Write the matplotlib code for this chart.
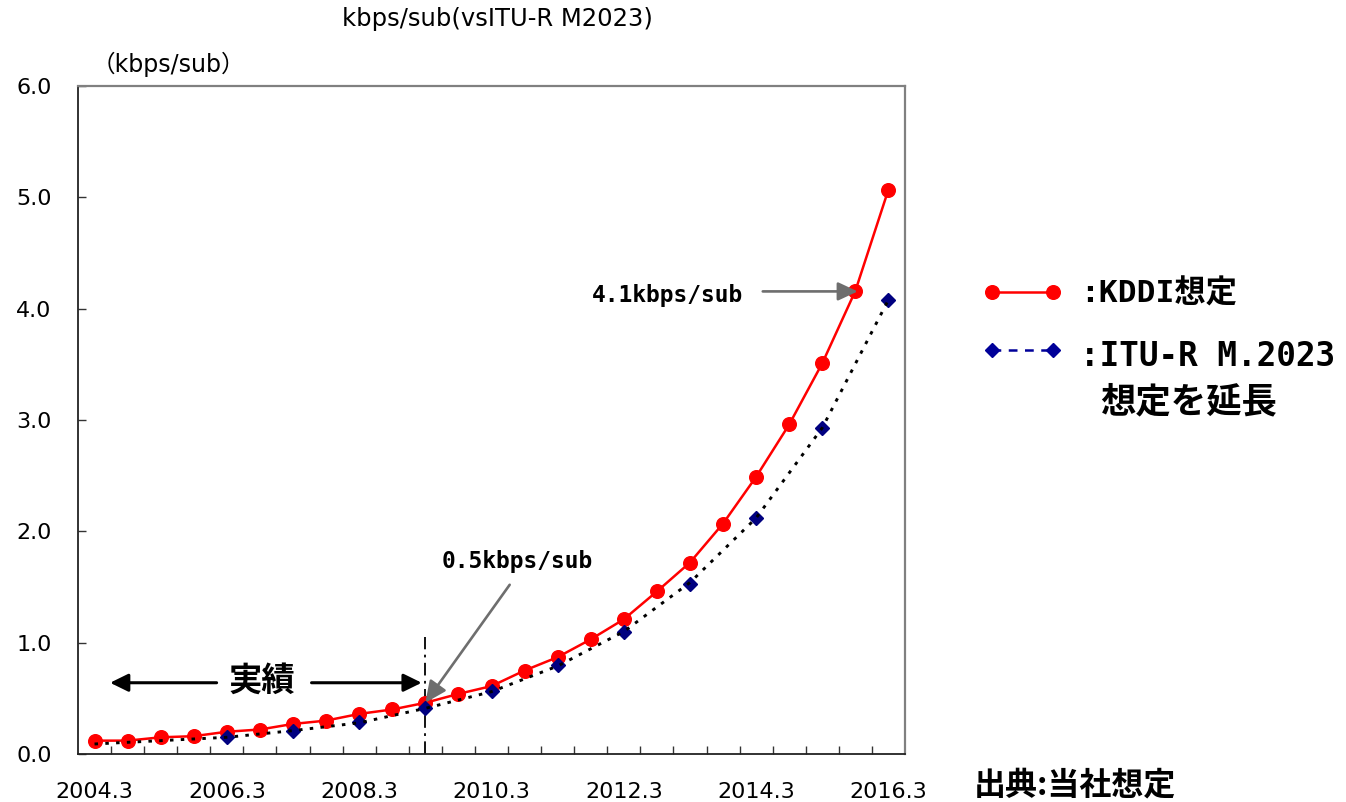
import numpy as np
import matplotlib
matplotlib.use("Agg")
import matplotlib.pyplot as plt

# ---- data -----------------------------------------------------------------
periods = [f"{y}.{m}" for y in range(2004, 2017) for m in (3, 9)][:-1]
tick_labels = ["2004.3", "2006.3", "2008.3", "2010.3", "2012.3", "2014.3", "2016.3"]

kddi = [0.12, 0.12, 0.15, 0.16, 0.20, 0.22, 0.27, 0.30, 0.36, 0.40, 0.46, 0.54, 0.61,
        0.75, 0.87, 1.03, 1.21, 1.46, 1.72, 2.07, 2.49, 2.96, 3.51, 4.16, 5.07]

itu_periods = ["2006.3", "2007.3", "2008.3", "2009.3", "2010.3", "2011.3",
               "2012.3", "2013.3", "2014.3", "2015.3", "2016.3"]
itu = [0.15, 0.21, 0.29, 0.41, 0.57, 0.80, 1.10, 1.53, 2.12, 2.93, 4.08]

trend_periods = ["2004.3", "2005.3", "2006.3", "2007.3", "2008.3", "2009.3", "2010.3",
                 "2011.3", "2012.3", "2013.3", "2014.3", "2015.3", "2016.3"]
itu_trend = [0.09, 0.12, 0.15, 0.21, 0.28, 0.41, 0.56, 0.79, 1.10, 1.54, 2.12, 2.93, 4.08]

actual_end = "2009.3"
kddi_note = ("2009.3", 0.46, "0.5kbps/sub")
itu_note = ("2015.9", 4.16, "4.1kbps/sub")

# ---- fonts ----------------------------------------------------------------
JP = "Noto Sans CJK JP"
MONO = "DejaVu Sans Mono"
plt.rcParams["font.family"] = ["DejaVu Sans", JP]

W, H = 1346, 802
fig = plt.figure(figsize=(W / 100, H / 100), dpi=100, facecolor="white")
ax = fig.add_axes([78 / W, 48 / H, 827 / W, 668 / H])

pos = {p: i for i, p in enumerate(periods)}
x = np.arange(len(periods))
ix = [pos[p] for p in itu_periods]
tx = [pos[p] for p in trend_periods]

ax.plot(x, kddi, color="#ff0000", lw=1.8, marker="o", ms=9.8, zorder=3)
ax.plot(ix, itu, ls="none", marker="D", ms=7.2, color="#000080", zorder=4)
ax.plot(tx, itu_trend, color="black", lw=2.1, ls=(0, (1.2, 2.5)), zorder=5)

# boundary between actual results and forecast
xa = pos[actual_end]
ax.plot([xa, xa], [0, 1.05], color="black", lw=1.3, ls=(0, (7, 3, 1.5, 3)), zorder=2)

# axes styling
ax.set_xlim(-0.5, len(periods) - 0.5)
ax.set_ylim(0, 6)
ax.set_xticks([pos[t] for t in tick_labels])
ax.set_xticklabels(tick_labels, fontsize=16, family="DejaVu Sans")
ax.set_xticks(np.arange(0.5, len(periods) - 1, 1), minor=True)
ax.tick_params(axis="x", which="major", length=0, pad=20)
ax.tick_params(axis="x", which="minor", direction="in", length=6, width=1.0, color="#333333")
ax.set_yticks(np.arange(0, 6.01, 1.0))
ax.set_yticklabels([f"{v:.1f}" for v in np.arange(0, 6.01, 1.0)], fontsize=16,
                   family="DejaVu Sans")
ax.tick_params(axis="y", direction="in", length=6, width=1.0, color="#333333", pad=19)
for side in ("left", "bottom"):
    ax.spines[side].set_color("#222222")
    ax.spines[side].set_linewidth(1.3)
for side in ("top", "right"):
    ax.spines[side].set_color("#808080")
    ax.spines[side].set_linewidth(1.6)

# annotations inside the plot
ax.annotate("", xy=(0.47, 0.64), xytext=(3.69, 0.64),
            arrowprops=dict(arrowstyle="-|>,head_length=0.55,head_width=0.27",
                            mutation_scale=20, color="black", lw=2.2,
                            shrinkA=0, shrinkB=0))
ax.annotate("", xy=(9.89, 0.64), xytext=(6.56, 0.64),
            arrowprops=dict(arrowstyle="-|>,head_length=0.55,head_width=0.27",
                            mutation_scale=20, color="black", lw=2.2,
                            shrinkA=0, shrinkB=0))
ax.text(5.05, 0.65, "実績", family=JP, weight="bold", fontsize=24,
        ha="center", va="center")

nx, ny, ntext = kddi_note
ax.annotate("", xy=(pos[nx], ny), xytext=(12.55, 1.52),
            arrowprops=dict(arrowstyle="-|>,head_length=0.65,head_width=0.3",
                            mutation_scale=20, color="#6e6e6e", lw=1.9,
                            shrinkA=0, shrinkB=0))
ax.text(12.79, 1.725, ntext, family=MONO, weight="bold", fontsize=16.5,
        ha="center", va="center")

nx, ny, ntext = itu_note
ax.annotate("", xy=(pos[nx] + 0.07, ny - 0.005), xytext=(20.2, ny - 0.005),
            arrowprops=dict(arrowstyle="-|>,head_length=0.6,head_width=0.28",
                            mutation_scale=20, color="#6e6e6e", lw=1.9,
                            shrinkA=0, shrinkB=0))
ax.text(17.31, 4.12, ntext, family=MONO, weight="bold", fontsize=16.5,
        ha="center", va="center")

# overlay in pixel coordinates for titles, legend and source note
ov = fig.add_axes([0, 0, 1, 1], facecolor="none")
ov.set_xlim(0, W)
ov.set_ylim(H, 0)
ov.axis("off")

ov.text(497, 19, "kbps/sub(vsITU-R M2023)", fontsize=17.5, ha="center", va="center",
        family="DejaVu Sans")
ov.text(92, 64, "（kbps/sub）", fontsize=17, ha="left", va="center",
        family=["DejaVu Sans", JP])

ov.plot([992, 1053], [292, 292], color="#ff0000", lw=1.8, marker="o", ms=9.8)
ov.plot([992, 1053], [350, 350], color="#000099", lw=1.8, ls=(0, (3.5, 3)),
        marker="D", ms=7.2, markerfacecolor="#000099", markeredgecolor="#000099")
ov.text(1080, 293, ":KDDI想定", family=[MONO, JP], weight="bold", fontsize=22.5,
        ha="left", va="center")
ov.text(1080, 356, ":ITU-R M.2023", family=[MONO, JP], weight="bold", fontsize=23.5,
        ha="left", va="center")
ov.text(1100, 402, "想定を延長", family=JP, weight="bold", fontsize=25.5,
        ha="left", va="center")
ov.text(974, 786, "出典:当社想定", family=JP, weight="bold", fontsize=23,
        ha="left", va="center")

fig.savefig("out.png", dpi=100, facecolor="white")
